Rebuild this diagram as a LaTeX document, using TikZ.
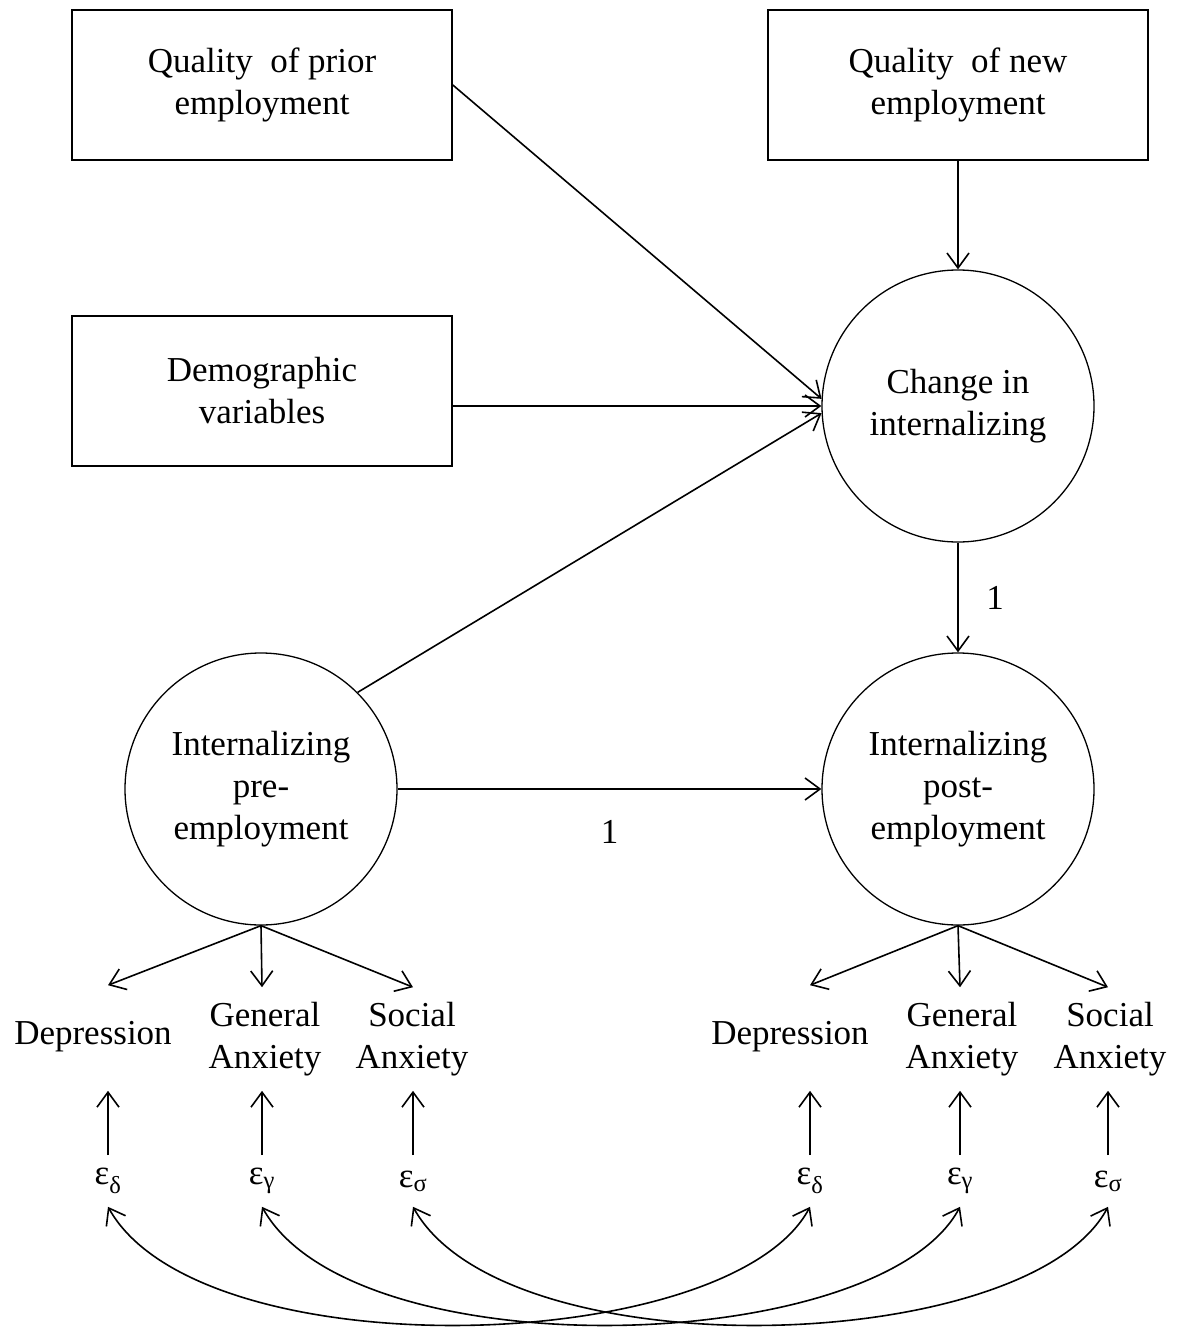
\documentclass[tikz,border=0pt]{standalone}
\usepackage{fontspec}
\setmainfont{Liberation Serif}
\usepackage{tikz}
\usetikzlibrary{arrows, arrows.meta, positioning}

\begin{document}
\begin{tikzpicture}[x=1pt,y=-1pt,on grid,line width=1.6pt,
    >={Straight Barb[length=15pt,width=22pt]},font=\fontsize{35}{42}\selectfont]
    \tikzstyle{obs}=[shape=rectangle,draw,minimum width=380pt,minimum height=150pt,align=center,inner sep=0pt]
    \tikzstyle{latent}=[shape=circle,draw,line width=1.3pt,minimum size=272pt,align=center,inner sep=0pt]
    \tikzstyle{ind}=[minimum height=102pt,align=center,inner sep=0pt]
    \tikzstyle{err}=[minimum height=50pt,inner sep=0pt]

    \useasboundingbox (0,0) rectangle (1178,1332);

    \node[obs] (prior) at (262,85) {Quality~ of prior\\employment};
    \node[obs,right=696pt of prior] (new) {Quality~ of new\\employment};
    \node[obs,below=306pt of prior] (demo) {Demographic\\variables};
    \node[latent,below=321pt of new] (change) {Change in\\internalizing};
    \node[latent,below=383pt of change] (post) {Internalizing\\post-\\employment};
    \node[latent,left=697pt of post] (pre) {Internalizing\\pre-\\employment};

    \node[ind] (dep1) at (93,1037) {Depression};
    \node[ind] (gen1) at (265,1039) {General\\Anxiety};
    \node[ind] (soc1) at (412,1039) {Social\\Anxiety};
    \node[ind] (dep2) at (790,1037) {Depression};
    \node[ind] (gen2) at (962,1039) {General\\Anxiety};
    \node[ind] (soc2) at (1110,1039) {Social\\Anxiety};

    \node[err] (ed1) at (108,1181) {ε\textsubscript{δ}};
    \node[err] (eg1) at (262,1181) {ε\textsubscript{γ}};
    \node[err] (es1) at (413,1181) {ε\textsubscript{σ}};
    \node[err] (ed2) at (810,1181) {ε\textsubscript{δ}};
    \node[err] (eg2) at (960,1181) {ε\textsubscript{γ}};
    \node[err] (es2) at (1108,1181) {ε\textsubscript{σ}};

    \path[->]
    (prior.east) edge (change.177)
    (demo.east |- change) edge (change)
    (pre.45) edge (change.183)
    (new) edge (change)
    (change) edge node[midway,xshift=37pt] (one2) {1} (post)
    (pre) edge node[midway,yshift=-43pt] (one1) {1} (post)
    ;

    \foreach \lv/\i in {pre/1,post/2}{
        \draw[->] (\lv.south) -- (ed\i |- dep\i.north);
        \draw[->] (\lv.south) -- (eg\i |- gen\i.north);
        \draw[->] (\lv.south) -- (es\i |- soc\i.north);
        \draw[->] (ed\i.north) -- (ed\i |- gen\i.south);
        \draw[->] (eg\i.north) -- (eg\i |- gen\i.south);
        \draw[->] (es\i.north) -- (es\i |- soc\i.south);
    }

    \foreach \e in {ed,eg,es}
        \draw[<->] (\e1.south) .. controls +(92,165) and +(-80,150) .. (\e2.south);

\end{tikzpicture}
\end{document}
